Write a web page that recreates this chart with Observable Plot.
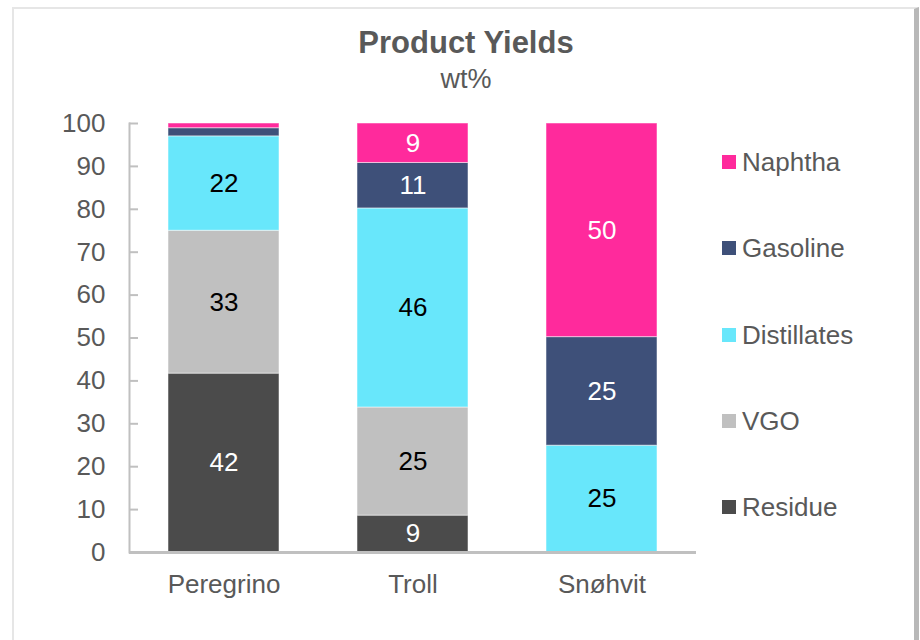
<!DOCTYPE html>
<html>
<head>
<meta charset="utf-8">
<script src="https://cdn.jsdelivr.net/npm/d3@7"></script>
<script src="https://cdn.jsdelivr.net/npm/@observablehq/plot@0.6"></script>
<style>
  html, body { margin: 0; padding: 0; background: #fff; overflow: hidden; }
  body { width: 920px; height: 640px; position: relative; font-family: "Liberation Sans", Arial, sans-serif; color: #595959; }
  #frame { position: absolute; left: 12px; top: 7px; width: 900px; height: 650px; border-left: 2px solid #e6e6e6; border-top: 2px solid #e6e6e6; border-right: 5px solid #b8b8b8; box-sizing: content-box; }
  #chart { position: absolute; left: 0; top: 0; }
  .title { position: absolute; left: 0; width: 932px; text-align: center; }
  #t1 { top: 25px; font-size: 31px; font-weight: bold; }
  #t2 { top: 64px; font-size: 27px; }
  .leg { position: absolute; left: 722px; font-size: 26px; line-height: 26px; display: flex; align-items: center; }
  .leg span.sw { display: inline-block; width: 14px; height: 14px; margin-right: 6px; }
</style>
</head>
<body>
<div id="frame"></div>
<div id="chart"></div>
<div class="title" id="t1">Product Yields</div>
<div class="title" id="t2">wt%</div>
<div id="legend"></div>
<script>
const categories = ["Peregrino", "Troll", "Snøhvit"];
const series = ["Residue", "VGO", "Distillates", "Gasoline", "Naphtha"];
const residue = [41.7, 8.6, 0];
const vgo = [33.3, 25.2, 0];
const distillates = [22.0, 46.4, 24.9];
const gasoline = [1.9, 10.6, 25.3];
const naphtha = [1.1, 9.2, 49.8];
const colors = ["#4b4b4b", "#c0c0c0", "#68e7fb", "#3e5079", "#ff2a9c"];
const darkSeries = ["Residue", "Gasoline", "Naphtha"];
const yTicks = [0, 10, 20, 30, 40, 50, 60, 70, 80, 90, 100];

const valuesBySeries = [residue, vgo, distillates, gasoline, naphtha];
const data = [];
series.forEach((s, i) => {
  categories.forEach((c, j) => {
    data.push({cat: c, series: s, value: valuesBySeries[i][j]});
  });
});

const lab = (dark) => d => (darkSeries.includes(d.series) === dark && d.value >= 5) ? String(Math.round(d.value)) : null;

const chart = Plot.plot({
  width: 920,
  height: 640,
  marginTop: 123,
  marginBottom: 88,
  marginLeft: 129,
  marginRight: 224,
  x: {domain: categories, paddingInner: 0.413, paddingOuter: 0.206, label: null},
  y: {domain: [0, 100], label: null},
  color: {domain: series, range: colors},
  style: {fontFamily: "'Liberation Sans', Arial, sans-serif", fontSize: "26px", color: "#595959", background: "transparent", overflow: "visible"},
  marks: [
    Plot.barY(data, {x: "cat", y: "value", z: "series", fill: "series", stroke: "#ffffff", strokeOpacity: 0.5, strokeWidth: 1}),
    Plot.text(data, Plot.stackY({x: "cat", y: "value", z: "series", text: lab(true), fill: "white", fontSize: 26})),
    Plot.text(data, Plot.stackY({x: "cat", y: "value", z: "series", text: lab(false), fill: "black", fontSize: 26})),
    Plot.frame({anchor: "left", stroke: "#c0c0c0", strokeWidth: 2}),
    Plot.ruleY([0], {stroke: "#c0c0c0", strokeWidth: 3}),
    Plot.axisY({ticks: yTicks, tickSize: 0, tickPadding: 24, fill: "#595959", fontSize: 26, label: null}),
    Plot.axisY({ticks: yTicks, tickSize: 9, dx: 9, tickFormat: () => "", stroke: "#c0c0c0", strokeWidth: 2, label: null}),
    Plot.axisX({tickSize: 0, tickPadding: 22, fill: "#595959", fontSize: 26, label: null})
  ]
});
document.getElementById("chart").appendChild(chart);

// legend (top to bottom: reverse of stack order)
const legend = document.getElementById("legend");
const legendTop = 162, legendStep = 86.25;
series.slice().reverse().forEach((s, k) => {
  const i = series.indexOf(s);
  const el = document.createElement("div");
  el.className = "leg";
  el.style.top = (legendTop + k * legendStep - 13) + "px";
  el.innerHTML = `<span class="sw" style="background:${colors[i]}"></span><span>${s}</span>`;
  legend.appendChild(el);
});
</script>
</body>
</html>
